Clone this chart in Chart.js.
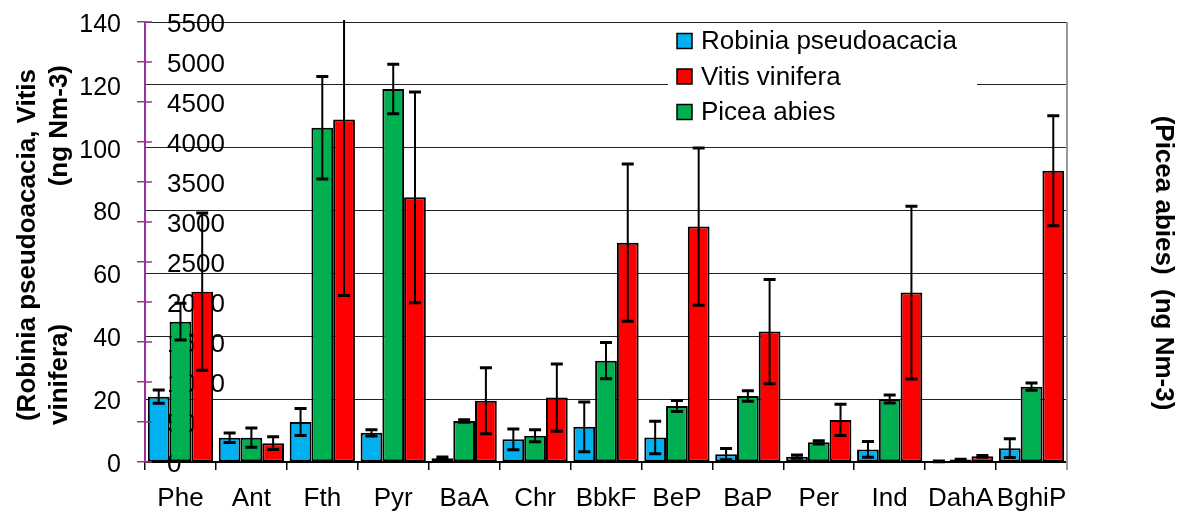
<!DOCTYPE html>
<html>
<head>
<meta charset="utf-8">
<script src="https://cdn.jsdelivr.net/npm/chart.js@4/dist/chart.umd.min.js"></script>
<style>
  html, body { margin: 0; padding: 0; background: #fff; }
  #wrap { width: 1179px; height: 513px; position: relative; }
</style>
</head>
<body>
<div id="wrap"><canvas id="chart"></canvas></div>
<script>
// PAH concentrations per compound (ng Nm-3)
const categories = ['Phe', 'Ant', 'Fth', 'Pyr', 'BaA', 'Chr', 'BbkF', 'BeP', 'BaP', 'Per', 'Ind', 'DahA', 'BghiP'];

// left axis series
const robinia    = [20.8, 7.7, 12.7, 9.3, 1.2, 7.2, 11.2, 7.8, 2.5, 1.7, 4.0, 0.2, 4.4];
const robiniaErr = [2.1, 1.5, 4.3, 1.0, 0.4, 3.3, 7.9, 5.2, 1.8, 0.5, 2.5, 0.1, 3.0];
const vitis      = [54.2, 6.0, 109.0, 84.2, 19.5, 20.5, 69.8, 74.9, 41.5, 13.4, 53.9, 1.8, 92.7];
const vitisErr   = [25, 2, 56, 33.5, 10.5, 10.7, 25, 25, 16.6, 5, 27.5, 0.3, 17.5];

// right axis series
const picea      = [1754, 304, 4179, 4662, 512, 329, 1267, 700, 825, 246, 787, 30, 942];
const piceaErr   = [230, 120, 640, 310, 15, 75, 227, 70, 65, 20, 50, 5, 45];

const leftTicks  = { min: 0, max: 140, step: 20 };
const rightTicks = { min: 0, max: 5500, step: 500 };

const FONT = 'Liberation Sans, Arial, sans-serif';
const PURPLE = '#993399';

/* ---------------------------------------------------------------
   plugins: error bars, legend box, axis titles, frame bits
--------------------------------------------------------------- */

const errorBars = {
  id: 'errorBars',
  afterDatasetsDraw(chart) {
    const { ctx, chartArea } = chart;
    ctx.save();
    ctx.beginPath();
    ctx.rect(chartArea.left, chartArea.top - 2, chartArea.right - chartArea.left, chartArea.bottom - chartArea.top + 4);
    ctx.clip();
    ctx.strokeStyle = '#000';
    chart.data.datasets.forEach((ds, i) => {
      const meta = chart.getDatasetMeta(i);
      const scale = chart.scales[ds.yAxisID];
      meta.data.forEach((bar, j) => {
        const v = ds.data[j];
        const e = ds.errors[j];
        const yTop = scale.getPixelForValue(v + e);
        const yBot = scale.getPixelForValue(Math.max(v - e, 0));
        ctx.lineWidth = 2;
        ctx.beginPath();
        ctx.moveTo(bar.x, yTop);
        ctx.lineTo(bar.x, yBot);
        ctx.stroke();
        ctx.lineWidth = 3;
        ctx.beginPath();
        ctx.moveTo(bar.x - 6, yTop);
        ctx.lineTo(bar.x + 6, yTop);
        ctx.moveTo(bar.x - 6, yBot);
        ctx.lineTo(bar.x + 6, yBot);
        ctx.stroke();
      });
    });
    ctx.restore();
  }
};

const legendBox = {
  id: 'legendBox',
  afterDraw(chart) {
    const ctx = chart.ctx;
    const order = [0, 2, 1]; // Robinia, Vitis, Picea
    ctx.save();
    ctx.fillStyle = '#fff';
    ctx.fillRect(668, 24, 309, 116);
    ctx.font = '26px ' + FONT;
    ctx.textBaseline = 'middle';
    order.forEach((idx, k) => {
      const ds = chart.data.datasets[idx];
      const cy = 41 + k * 35.5;
      ctx.fillStyle = ds.backgroundColor;
      ctx.fillRect(677, cy - 7.5, 15, 15);
      ctx.strokeStyle = '#000';
      ctx.lineWidth = 1.5;
      ctx.strokeRect(677, cy - 7.5, 15, 15);
      ctx.fillStyle = '#000';
      ctx.fillText(ds.label, 701, cy + 1);
    });
    ctx.restore();
  }
};

const axisTitles = {
  id: 'axisTitles',
  afterDraw(chart) {
    const ctx = chart.ctx;
    ctx.save();
    ctx.fillStyle = '#000';
    ctx.font = 'bold 26px ' + FONT;
    ctx.textBaseline = 'middle';

    // left title, rotated to read upwards
    ctx.save();
    ctx.translate(28, 245);
    ctx.rotate(-Math.PI / 2);
    ctx.textAlign = 'center';
    ctx.fillText('(Robinia pseudoacacia, Vitis', 0, 0);
    ctx.restore();

    ctx.save();
    ctx.translate(60, 425);
    ctx.rotate(-Math.PI / 2);
    ctx.textAlign = 'left';
    ctx.fillText('vinifera)', 0, 0);
    ctx.restore();

    ctx.save();
    ctx.translate(60, 65);
    ctx.rotate(-Math.PI / 2);
    ctx.textAlign = 'right';
    ctx.fillText('(ng Nm-3)', 0, 0);
    ctx.restore();

    // right title, reads downwards
    ctx.save();
    ctx.translate(1163, 263);
    ctx.rotate(Math.PI / 2);
    ctx.textAlign = 'center';
    ctx.fillText('(Picea abies)  (ng Nm-3)', 0, 0);
    ctx.restore();

    ctx.restore();
  }
};

const frameBits = {
  id: 'frameBits',
  beforeDatasetsDraw(chart) {
    const { ctx, chartArea } = chart;
    ctx.save();
    // grey right edge of the plot
    ctx.strokeStyle = '#999';
    ctx.lineWidth = 2;
    ctx.beginPath();
    ctx.moveTo(chartArea.right, chartArea.top);
    ctx.lineTo(chartArea.right, chartArea.bottom + 8);
    ctx.stroke();
    ctx.restore();
  },
  afterDraw(chart) {
    // purple ticks of the Picea axis cross into the plot a little
    const { ctx, chartArea } = chart;
    const y2 = chart.scales.y2;
    ctx.save();
    ctx.strokeStyle = PURPLE;
    ctx.lineWidth = 1.5;
    ctx.beginPath();
    y2.ticks.forEach((t) => {
      const py = y2.getPixelForValue(t.value);
      ctx.moveTo(chartArea.left, py);
      ctx.lineTo(chartArea.left + 7, py);
    });
    ctx.stroke();
    ctx.restore();
  }
};

const barStyle = {
  borderColor: '#000',
  borderWidth: 2,
  borderSkipped: false,
  categoryPercentage: 0.92,
  barPercentage: 1.0
};

function noEdgePadding(scale) {
  scale.paddingTop = 0;
  scale.paddingBottom = 0;
}

new Chart(document.getElementById('chart'), {
  type: 'bar',
  data: {
    labels: categories,
    datasets: [
      Object.assign({ label: 'Robinia pseudoacacia', data: robinia, errors: robiniaErr, backgroundColor: '#00B0F0', yAxisID: 'y' }, barStyle),
      Object.assign({ label: 'Picea abies', data: picea, errors: piceaErr, backgroundColor: '#00B050', yAxisID: 'y2' }, barStyle),
      Object.assign({ label: 'Vitis vinifera', data: vitis, errors: vitisErr, backgroundColor: '#FF0000', yAxisID: 'y' }, barStyle)
    ]
  },
  options: {
    responsive: true,
    maintainAspectRatio: false,
    animation: false,
    layout: { padding: { left: 0, right: 112, top: 22, bottom: 0 } },
    plugins: {
      legend: { display: false },
      tooltip: { enabled: false }
    },
    scales: {
      x: {
        grid: { drawOnChartArea: false, drawTicks: true, tickLength: 8, color: '#000', lineWidth: 1.5 },
        border: { color: '#000', width: 2 },
        ticks: { color: '#000', font: { family: FONT, size: 26 }, padding: 13, maxRotation: 0, autoSkip: false },
        afterFit(scale) { scale.height = 51; }
      },
      y: {
        position: 'left',
        weight: 2,
        min: leftTicks.min,
        max: leftTicks.max,
        grid: { color: '#222', lineWidth: 1, drawTicks: false },
        border: { display: false },
        ticks: { stepSize: leftTicks.step, color: '#000', font: { family: FONT, size: 25 }, padding: 24, labelOffset: 3 },
        afterFit(scale) { scale.width = 145; noEdgePadding(scale); }
      },
      y2: {
        position: 'left',
        weight: 1,
        z: 1,
        min: rightTicks.min,
        max: rightTicks.max,
        grid: { drawOnChartArea: false, drawTicks: true, tickLength: 8, color: PURPLE, lineWidth: 1.5 },
        border: { color: PURPLE, width: 2 },
        ticks: {
          stepSize: rightTicks.step, mirror: true, padding: 22, labelOffset: 3, color: '#000',
          font: { family: FONT, size: 26 },
          callback: (v) => String(v)
        },
        afterFit(scale) { scale.width = 0; noEdgePadding(scale); }
      }
    }
  },
  plugins: [frameBits, errorBars, legendBox, axisTitles]
});
</script>
</body>
</html>
